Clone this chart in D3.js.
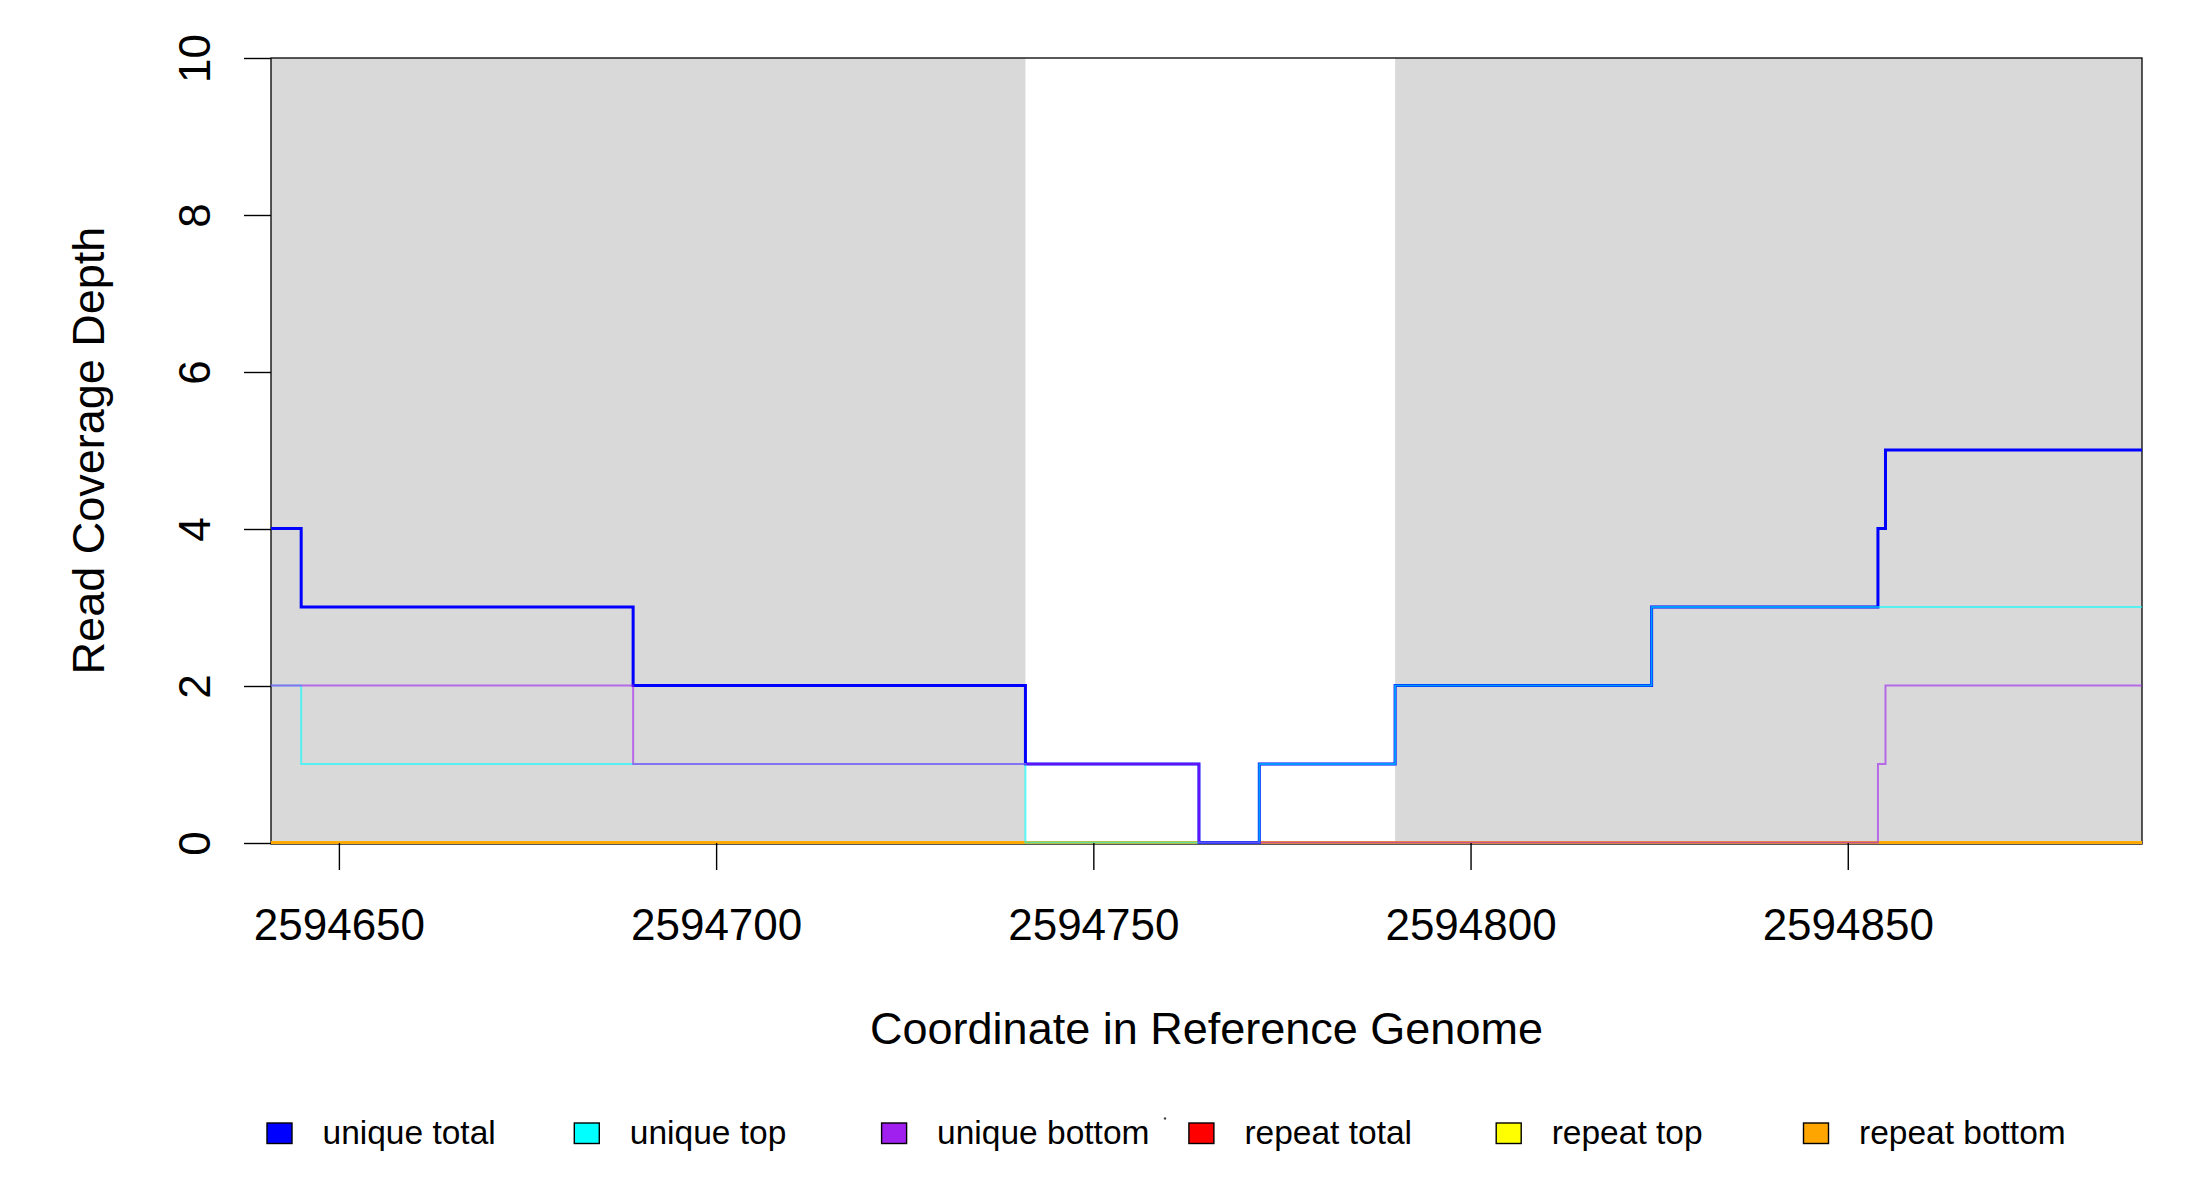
<!DOCTYPE html>
<html>
<head>
<meta charset="utf-8">
<script src="https://cdn.jsdelivr.net/npm/d3@7"></script>
<style>
  body { margin: 0; background: #ffffff; }
  text { font-family: "Liberation Sans", Arial, sans-serif; fill: #000; }
</style>
</head>
<body>
<div id="chart"></div>
<script>
// step breakpoints (value holds until the next position)
var positions    = [2594641, 2594645, 2594689, 2594741, 2594764, 2594772, 2594790, 2594824, 2594854, 2594855, 2594889];
var uniqueTotal  = [4, 3, 2, 1, 0, 1, 2, 3, 4, 5, 5];
var uniqueTop    = [2, 1, 1, 0, 0, 1, 2, 3, 3, 3, 3];
var uniqueBottom = [2, 2, 1, 1, 0, 0, 0, 0, 1, 2, 2];
var repeatTotal  = [0, 0, 0, 0, 0, 0, 0, 0, 0, 0, 0];
var repeatTop    = [0, 0, 0, 0, 0, 0, 0, 0, 0, 0, 0];
var repeatBottom = [0, 0, 0, 0, 0, 0, 0, 0, 0, 0, 0];

// shaded regions [start, end]
var regionStarts = [2594641, 2594790];
var regionEnds   = [2594741, 2594889];

var xTicks = [2594650, 2594700, 2594750, 2594800, 2594850];
var yTicks = [0, 2, 4, 6, 8, 10];

var legendNames  = ["unique total", "unique top", "unique bottom", "repeat total", "repeat top", "repeat bottom"];
var legendColors = ["#0000ff", "#00ffff", "#a020f0", "#ff0000", "#ffff00", "#ffa500"];

var drawGraph = function(){

  const width = 2200;
  const height = 1200;

  var svg = d3.select('#chart')
    .append('svg')
    .attr("width", width)
    .attr("height", height)
    .style('background-color', '#ffffff');

  // plot area
  var left = 271, right = 2142, top = 58, bottom = 843;

  var x = d3.scaleLinear()
    .domain([2594641, 2594889])
    .range([left, right]);

  var y = d3.scaleLinear()
    .domain([0, 10])
    .range([bottom, top]);

  // grey regions
  svg.selectAll("rect.region")
    .data(regionStarts)
    .enter().append("rect")
    .attr("class", "region")
    .attr("x", function(d){ return x(d); })
    .attr("y", y(10))
    .attr("width", function(d, i){ return x(regionEnds[i]) - x(d); })
    .attr("height", y(0) - y(10))
    .attr("fill", "#d9d9d9");

  // box (drawn under the lines, as in the original)
  svg.append("rect")
    .attr("x", left).attr("y", top)
    .attr("width", right - left).attr("height", bottom - top + 1)
    .attr("fill", "none")
    .attr("stroke", "#000")
    .attr("stroke-width", 1.3);

  var line = d3.line()
    .x(function(d){ return x(d[0]); })
    .y(function(d){ return y(d[1]) - 0.5; })
    .curve(d3.curveStepAfter);

  var series = [
    { vals: repeatTotal,  color: "#ff0000", w: 2.5, op: 1 },
    { vals: repeatTop,    color: "#ffff00", w: 2.5, op: 1 },
    { vals: repeatBottom, color: "#ffa500", w: 2.5, op: 1 },
    { vals: uniqueTotal,  color: "#0000ff", w: 3,   op: 1 },
    { vals: uniqueTop,    color: "#00ffff", w: 2,   op: 0.6 },
    { vals: uniqueBottom, color: "#a020f0", w: 2,   op: 0.6 }
  ];

  svg.selectAll("path.series")
    .data(series)
    .enter().append("path")
    .attr("class", "series")
    .attr("d", function(s){ return line(positions.map(function(p, i){ return [p, s.vals[i]]; })); })
    .attr("fill", "none")
    .attr("stroke", function(s){ return s.color; })
    .attr("stroke-width", function(s){ return s.w; })
    .attr("stroke-opacity", function(s){ return s.op; });

  // x axis
  var xAxis = svg.append("g")
    .attr("transform", "translate(0," + bottom + ")")
    .call(d3.axisBottom(x).tickValues(xTicks).tickSize(27).tickFormat(d3.format("d")));
  xAxis.select(".domain").remove();
  xAxis.selectAll("line").attr("stroke", "#000").attr("stroke-width", 1.4);
  xAxis.selectAll("text")
    .attr("font-size", 44)
    .attr("dy", null)
    .attr("y", 97)
    .style("font-family", "'Liberation Sans', Arial, sans-serif");

  // y axis
  var yAxis = svg.append("g")
    .attr("transform", "translate(" + left + ",0)")
    .call(d3.axisLeft(y).tickValues(yTicks).tickSize(27).tickFormat(d3.format("d")));
  yAxis.select(".domain").remove();
  yAxis.selectAll("line").attr("stroke", "#000").attr("stroke-width", 1.4);
  yAxis.selectAll("text")
    .attr("font-size", 44)
    .attr("x", null).attr("dy", null)
    .attr("text-anchor", "middle")
    .attr("transform", "translate(-61,0) rotate(-90)")
    .style("font-family", "'Liberation Sans', Arial, sans-serif");

  // axis titles
  svg.append("text")
    .attr("x", (left + right) / 2)
    .attr("y", 1044)
    .attr("text-anchor", "middle")
    .attr("font-size", 45)
    .text("Coordinate in Reference Genome");

  svg.append("text")
    .attr("transform", "translate(104," + ((top + bottom) / 2) + ") rotate(-90)")
    .attr("text-anchor", "middle")
    .attr("font-size", 45)
    .text("Read Coverage Depth");

  // legend
  var legend = svg.append("g");
  var item = legend.selectAll("g")
    .data(legendNames)
    .enter().append("g")
    .attr("transform", function(d, i){ return "translate(" + (267 + i * 307.3) + ",0)"; });

  item.append("rect")
    .attr("x", 0).attr("y", 1123)
    .attr("width", 25).attr("height", 20.5)
    .attr("fill", function(d, i){ return legendColors[i]; })
    .attr("stroke", "#000")
    .attr("stroke-width", 1.4);

  item.append("text")
    .attr("x", 55.5)
    .attr("y", 1144)
    .attr("font-size", 33.5)
    .text(function(d){ return d; });

  // small stray mark near the legend
  svg.append("circle")
    .attr("cx", 1165).attr("cy", 1118.5).attr("r", 1.2)
    .attr("fill", "#444");
};

drawGraph();
</script>
</body>
</html>
